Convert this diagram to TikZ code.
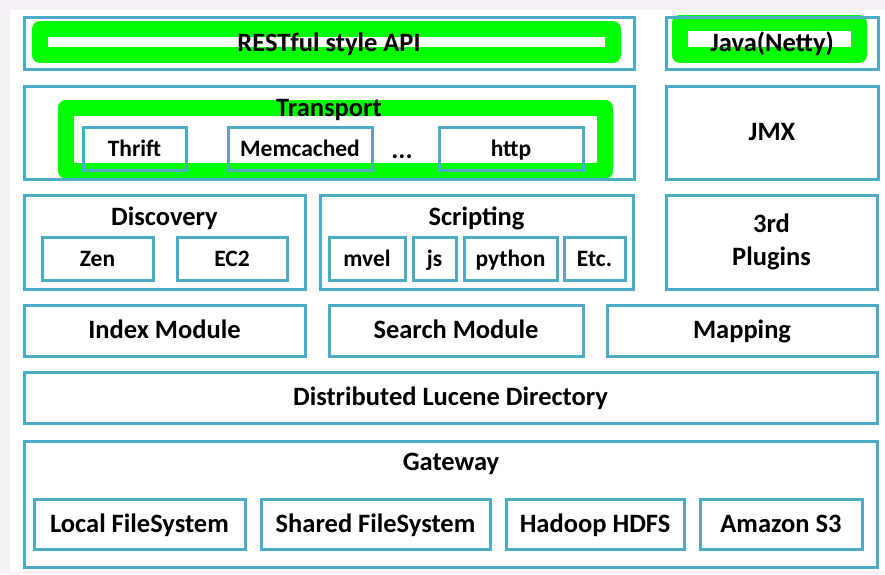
\documentclass[tikz,border=0pt]{standalone}
\usepackage{fontspec}
\setmainfont{Carlito}

\definecolor{rahmen}{RGB}{75,172,198}
\definecolor{leucht}{RGB}{0,255,0}
\definecolor{hintergrund}{RGB}{248,240,248}

\tikzset{
	grundbox/.style={draw=rahmen, line width=3pt, inner sep=0pt, text=black,
		font=\fontsize{26.5}{33}\selectfont\bfseries, align=center},
	box/.style={grundbox, text height=20pt, text depth=4pt},
	kleinbox/.style={grundbox, font=\fontsize{23.5}{28}\selectfont\bfseries,
		text height=19.5pt, text depth=3.5pt},
	titel/.style={inner sep=0pt, text=black, font=\fontsize{26.5}{30}\selectfont\bfseries,
		text height=20pt, text depth=4pt},
	markierung/.style={draw=leucht, line width=16pt, line join=round},
}

\begin{document}
\begin{tikzpicture}[x=1pt, y=-1pt]
\useasboundingbox (0,0) rectangle (885,574);
% Hintergrund
\fill[hintergrund] (0,0) rectangle (885,574);
\fill[white] (10,10) rectangle (885,571);

% Gruene Markierungen
\draw[markierung] (40,29) rectangle (613,55);
\draw[markierung] (679.5,23) rectangle (859,55);
\draw[markierung] (66,107.5) rectangle (605,170.5);

% Obere Zeile
\node[box, minimum width=610pt, minimum height=52pt] (rest) at (329,43) {RESTful style API};
\node[box, minimum width=212pt, minimum height=52pt] (java) at (772,43) {Java(Netty)};

% Transport
\node[box, minimum width=610pt, minimum height=93pt] (transport) at (329,132.5) {};
\node[titel] (transporttitel) at (329,108) {Transport};
\node[kleinbox, minimum width=103pt, minimum height=43pt] (thrift) at (134.5,148.5) {Thrift};
\node[kleinbox, minimum width=144pt, minimum height=43pt] (memcached) at (300,148.5) {Memcached};
\node[titel] (punkte) at (402,150) {...};
\node[kleinbox, minimum width=144pt, minimum height=43pt] (http) at (511,148.5) {http};
\node[box, minimum width=212pt, minimum height=93pt] (jmx) at (772,132.5) {JMX};

% Discovery und Scripting
\node[box, minimum width=281pt, minimum height=94pt] (discovery) at (164.5,242) {};
\node[titel] (discoverytitel) at (164.5,217) {Discovery};
\node[kleinbox, minimum width=111pt, minimum height=43pt] (zen) at (97.5,258.5) {Zen};
\node[kleinbox, minimum width=110pt, minimum height=43pt] (ectwo) at (232,258.5) {EC2};
\node[box, minimum width=313pt, minimum height=94pt] (scripting) at (476.5,242) {};
\node[titel] (scriptingtitel) at (476.5,217) {Scripting};
\node[kleinbox, minimum width=76pt, minimum height=43pt] (mvel) at (367,258.5) {mvel};
\node[kleinbox, minimum width=43pt, minimum height=43pt] (js) at (434.5,258.5) {js};
\node[kleinbox, minimum width=93pt, minimum height=43pt] (python) at (510.5,258.5) {python};
\node[kleinbox, minimum width=61pt, minimum height=43pt] (etc) at (594.5,258.5) {Etc.};
\node[grundbox, minimum width=211pt, minimum height=94pt] (plugins) at (771.5,242) {3rd\\Plugins};

% Module
\node[box, minimum width=281pt, minimum height=51pt] (index) at (164.5,330.5) {Index Module};
\node[box, minimum width=254pt, minimum height=51pt] (search) at (456,330.5) {Search Module};
\node[box, minimum width=270pt, minimum height=51pt] (mapping) at (742,330.5) {Mapping};
\node[box, minimum width=853pt, minimum height=51pt] (lucene) at (450.5,397.5) {Distributed Lucene Directory};

% Gateway
\node[box, minimum width=853pt, minimum height=126pt] (gateway) at (450.5,504) {};
\node[titel] (gatewaytitel) at (451,462) {Gateway};
\node[box, minimum width=211pt, minimum height=50pt] (local) at (139.5,524) {Local FileSystem};
\node[box, minimum width=229pt, minimum height=50pt] (shared) at (375.5,524) {Shared FileSystem};
\node[box, minimum width=178pt, minimum height=50pt] (hadoop) at (595,524) {Hadoop HDFS};
\node[box, minimum width=162pt, minimum height=50pt] (amazon) at (781,524) {Amazon S3};
\end{tikzpicture}
\end{document}
